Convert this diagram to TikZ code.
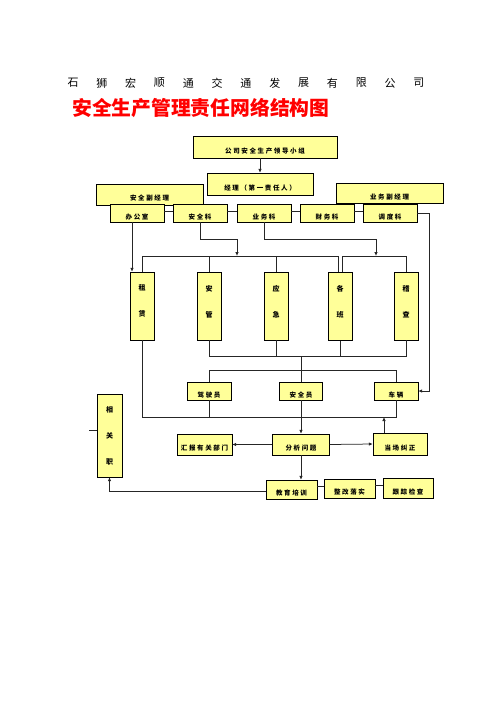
\documentclass[tikz,border=0pt]{standalone}
\usepackage{fontspec}
\usepackage{tikz}
\usetikzlibrary{arrows.meta}

\newfontfamily\cjk{Noto Sans CJK SC}
\newfontfamily\cjksp[LetterSpace=25]{Noto Sans CJK SC}
\definecolor{boxyellow}{HTML}{FFFF99}

\tikzset{
  box/.style={draw, fill=boxyellow, inner sep=0pt, text height=13pt, font=\cjksp\bfseries\fontsize{6.5}{8}\selectfont},
  vbox/.style={draw, fill=boxyellow, inner sep=0pt, minimum width=24pt, minimum height=68pt, align=center, font=\cjk\bfseries\fontsize{7}{26}\selectfont},
  lift/.style={text depth=10pt},
  link/.style={draw=black!85, line width=0.75pt},
}

\begin{document}
\begin{tikzpicture}[x=1pt, y=-1pt, >={Latex[length=4pt,width=3.5pt]}]
\useasboundingbox (0,0) rectangle (496,702);

% heading
\foreach \c [count=\i from 0] in {石,狮,宏,顺,通,交,通,发,展,有,限,公,司}
  \node[font=\cjk\fontsize{11}{12}\selectfont, inner sep=0pt] (co\i) at (73+28.83*\i, 83) {\c};
\node[anchor=west, inner sep=0pt, text=red, font=\cjk\bfseries\fontsize{19.8}{22}\selectfont] (title) at (72,108) {安全生产管理责任网络结构图};

% leadership
\node[box, minimum width=144pt, minimum height=22pt] (lead) at (265,147) {公司安全生产领导小组};
\node[box, minimum width=106pt, minimum height=22pt] (mgr) at (260,184) {经理（第一责任人）};
\node[box, minimum width=107pt, minimum height=21pt] (vsafe) at (149.5,194.5) {安全副经理};
\node[box, minimum width=107pt, minimum height=20pt] (vbiz) at (389.5,193) {业务副经理};
\draw[link, ->] (mgr.north |- lead.south) -- (mgr.north);

% departments
\node[box, minimum width=54pt, minimum height=18pt] (o1) at (137,213) {办公室};
\node[box, minimum width=54pt, minimum height=18pt] (o2) at (200,213) {安全科};
\node[box, minimum width=54pt, minimum height=18pt] (o3) at (264,213) {业务科};
\node[box, minimum width=54pt, minimum height=18pt] (o4) at (327,213) {财务科};
\node[box, minimum width=54pt, minimum height=18pt] (o5) at (390,213) {调度科};
\foreach \a/\b in {o1/o2, o2/o3, o3/o4, o4/o5}
  \draw[link] ([yshift=2pt]\a.east) -- ([yshift=2pt]\b.west);

% teams
\node[vbox, lift] (rent) at (142,306) {租\\赁};
\node[vbox, lift] (anm) at (209,306) {安\\管};
\node[vbox, lift] (emg) at (276,306) {应\\急};
\node[vbox, lift, line width=1pt] (cls) at (340,306) {各\\班};
\node[vbox, lift] (insp) at (406,306) {稽\\查};

\coordinate (barA) at (237,256);
\coordinate (barB) at (376,256);
\coordinate (barC) at (301,356);
\coordinate (barD) at (301,370);
\coordinate (barE) at (301,417);

\draw[link, ->] ([xshift=-5pt]o1.south) -- ([xshift=-5pt]o1.south |- rent.north);
\draw[link, ->] (o2.south) -- ++(0,17) -| (barA);
\draw[link, ->] (o3.south) -- ++(0,17) -| (barB);
\draw[link] (rent.north) |- ([xshift=-2pt]cls.north |- barA) -- ([xshift=-2pt]cls.north);
\draw[link] (anm.north) -- (anm.north |- barA);
\draw[link] (emg.north) -- (emg.north |- barA);
\draw[link] ([xshift=2pt]cls.north) |- (insp.north |- barB) -- (insp.north);

\draw[link] (anm.south) |- (insp.south |- barC) -- (insp.south);
\draw[link] (emg.south) -- (emg.south |- barC);
\draw[link] (cls.south) -- (cls.south |- barC);
\draw[link] (barC) -- (barD);

% staff
\node[box, minimum width=44pt, minimum height=18pt] (drv) at (209,391) {驾驶员};
\node[box, minimum width=43pt, minimum height=18pt] (sfo) at (301,391) {安全员};
\node[box, minimum width=44pt, minimum height=18pt] (car) at (396,391) {车辆};
\draw[link] (drv.north) |- (car.north |- barD) -- (car.north);
\draw[link] (barD) -- (sfo.north);
\draw[link, ->] (o5.east) -- ++(12,0) |- (car.east);

\draw[link] (rent.south) |- (car.south |- barE) -- (car.south);
\draw[link] (drv.south) -- (drv.south |- barE);

% handling
\node[box, minimum width=57pt, minimum height=21pt] (ana) at (301,444.5) {分析问题};
\node[box, minimum width=55pt, minimum height=21pt] (rep) at (204.5,444.5) {汇报有关部门};
\node[box, minimum width=54pt, minimum height=22pt] (fix) at (400,444) {当场纠正};
\draw[link, ->] (sfo.south) -- (ana.north);
\draw[link, ->] (ana.west) -- (rep.east);
\draw[link, ->] (ana.east) -- (fix.west);
\draw[link, ->] ([xshift=-16pt]fix.north) -- ([xshift=-16pt]fix.north |- barE);

\node[box, minimum width=51pt, minimum height=19pt] (edu) at (291.5,489.5) {教育培训};
\node[box, minimum width=51pt, minimum height=19pt] (rect) at (349.5,488.5) {整改落实};
\node[box, minimum width=50pt, minimum height=20pt] (chk) at (408,488) {跟踪检查};
\draw[link, ->] (ana.south) -- (ana.south |- edu.north);
\draw[link] ([yshift=3pt]edu.east) -- ([yshift=3pt]edu.east -| rect.west);
\draw[link] ([yshift=3pt]rect.east) -- ([yshift=3pt]rect.east -| chk.west);

% related departments
\node[vbox, minimum width=25pt, minimum height=83pt, yshift=-2pt] (rel) at (109.5,433.5) {相\\关\\职};
\draw[link, ->] ([yshift=-2pt]edu.west) -| (rel.south);
\coordinate (relin) at (89,430);
\draw[link] (relin) -- (relin -| rel.west);
\end{tikzpicture}
\end{document}
